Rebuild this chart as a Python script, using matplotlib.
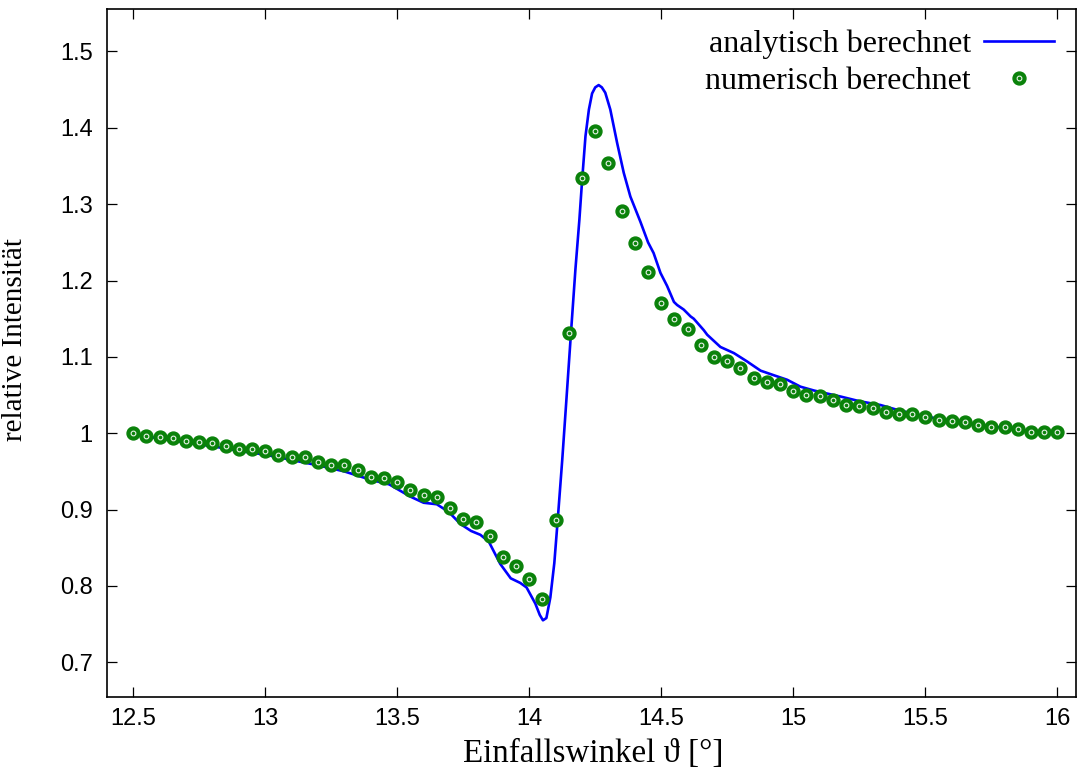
import matplotlib
matplotlib.use("Agg")
import matplotlib.pyplot as plt
from matplotlib.legend_handler import HandlerTuple

# numerical data (points)
x_num = [12.50, 12.55, 12.60, 12.65, 12.70, 12.75, 12.80, 12.85, 12.90, 12.95,
         13.00, 13.05, 13.10, 13.15, 13.20, 13.25, 13.30, 13.35, 13.40, 13.45,
         13.50, 13.55, 13.60, 13.65, 13.70, 13.75, 13.80, 13.85, 13.90, 13.95,
         14.00, 14.05, 14.10, 14.15, 14.20, 14.25, 14.30, 14.35, 14.40, 14.45,
         14.50, 14.55, 14.60, 14.65, 14.70, 14.75, 14.80, 14.85, 14.90, 14.95,
         15.00, 15.05, 15.10, 15.15, 15.20, 15.25, 15.30, 15.35, 15.40, 15.45,
         15.50, 15.55, 15.60, 15.65, 15.70, 15.75, 15.80, 15.85, 15.90, 15.95,
         16.00]
y_num = [1.000, 0.996, 0.995, 0.994, 0.990, 0.988, 0.987, 0.983, 0.980, 0.980,
         0.977, 0.971, 0.969, 0.969, 0.962, 0.958, 0.958, 0.952, 0.943, 0.941,
         0.936, 0.926, 0.919, 0.917, 0.902, 0.888, 0.884, 0.865, 0.838, 0.826,
         0.809, 0.783, 0.887, 1.131, 1.334, 1.396, 1.354, 1.291, 1.249, 1.211,
         1.171, 1.149, 1.136, 1.116, 1.100, 1.095, 1.085, 1.072, 1.067, 1.065,
         1.055, 1.050, 1.049, 1.044, 1.037, 1.036, 1.033, 1.028, 1.025, 1.025,
         1.021, 1.017, 1.016, 1.015, 1.011, 1.008, 1.008, 1.006, 1.002, 1.002,
         1.001]

# analytical curve
x_ana = [12.50, 12.60, 12.70, 12.80, 12.90, 13.00, 13.10, 13.20, 13.30, 13.40,
         13.47, 13.55, 13.60, 13.65, 13.695, 13.74, 13.78, 13.815, 13.847, 13.89,
         13.93, 13.966, 13.99, 14.023, 14.040, 14.052, 14.065, 14.080, 14.095, 14.108,
         14.125, 14.140, 14.158, 14.175, 14.190, 14.200, 14.213, 14.226, 14.238, 14.250,
         14.263, 14.275, 14.288, 14.307, 14.333, 14.358, 14.383, 14.421, 14.450, 14.471,
         14.497, 14.522, 14.548, 14.560, 14.585, 14.611, 14.623, 14.661, 14.674, 14.724,
         14.775, 14.825, 14.876, 14.926, 14.977, 15.027, 15.078, 15.128, 15.180, 15.250,
         15.330, 15.400, 15.500, 15.600, 15.700, 15.800, 15.900, 16.000]
y_ana = [0.999, 0.993, 0.988, 0.983, 0.977, 0.972, 0.965, 0.958, 0.950, 0.939,
         0.933, 0.917, 0.909, 0.907, 0.897, 0.881, 0.872, 0.867, 0.858, 0.829,
         0.810, 0.804, 0.798, 0.777, 0.762, 0.755, 0.758, 0.785, 0.830, 0.887,
         0.965, 1.040, 1.131, 1.215, 1.280, 1.330, 1.389, 1.424, 1.445, 1.453,
         1.456, 1.453, 1.446, 1.424, 1.380, 1.341, 1.310, 1.277, 1.250, 1.236,
         1.210, 1.193, 1.172, 1.168, 1.162, 1.153, 1.150, 1.135, 1.129, 1.113,
         1.105, 1.094, 1.082, 1.076, 1.070, 1.061, 1.056, 1.052, 1.048, 1.042,
         1.037, 1.030, 1.022, 1.016, 1.011, 1.007, 1.003, 1.001]

x_ticks = [12.5, 13, 13.5, 14, 14.5, 15, 15.5, 16]
x_ticklabels = ["12.5", "13", "13.5", "14", "14.5", "15", "15.5", "16"]
y_ticks = [0.7, 0.8, 0.9, 1.0, 1.1, 1.2, 1.3, 1.4, 1.5]
y_ticklabels = ["0.7", "0.8", "0.9", "1", "1.1", "1.2", "1.3", "1.4", "1.5"]

serif = ["Liberation Serif", "DejaVu Serif"]
sans = ["Liberation Sans", "DejaVu Sans"]

fig = plt.figure(figsize=(10.78, 7.71), dpi=100)
ax = fig.add_axes([0.099, 0.0964, 0.899, 0.8913])

green = "#0a820a"
line_a, = ax.plot(x_ana, y_ana, color="#0000ff", lw=1.9, zorder=2)
pts, = ax.plot(x_num, y_num, ls="none", marker="o", ms=9.3, color=green,
               mec=green, zorder=3)
ring, = ax.plot(x_num, y_num, ls="none", marker="o", ms=3.4, mfc="none",
                mec="#e8f2e8", mew=0.8, zorder=4)

ax.set_xlim(12.4, 16.07)
ax.set_ylim(0.655, 1.555)
ax.set_xticks(x_ticks)
ax.set_xticklabels(x_ticklabels)
ax.set_yticks(y_ticks)
ax.set_yticklabels(y_ticklabels)
ax.tick_params(direction="in", length=7.2, width=0.9, top=True, right=True,
               labelsize=17)
ax.tick_params(axis="x", pad=8)
ax.tick_params(axis="y", pad=10)
for lab in ax.get_xticklabels() + ax.get_yticklabels():
    lab.set_family(sans)
for s in ax.spines.values():
    s.set_linewidth(1.2)

ax.set_xlabel("Einfallswinkel \u03d1 [°]", family=serif, fontsize=23.8)
ax.set_ylabel("relative Intensität", family=serif, fontsize=21)
ax.xaxis.set_label_coords(0.502, -0.061)
ax.yaxis.set_label_coords(-0.081, 0.52)

leg = ax.legend([line_a, (pts, ring)], ["analytisch berechnet", "numerisch berechnet"],
                handler_map={tuple: HandlerTuple(ndivide=1)},
                loc="upper right", bbox_to_anchor=(1.007, 1.012), frameon=False,
                markerfirst=False, numpoints=1, handlelength=2.2, handletextpad=0.4,
                labelspacing=0.22, prop={"family": serif, "size": 23})

fig.savefig("out.png", dpi=100)
